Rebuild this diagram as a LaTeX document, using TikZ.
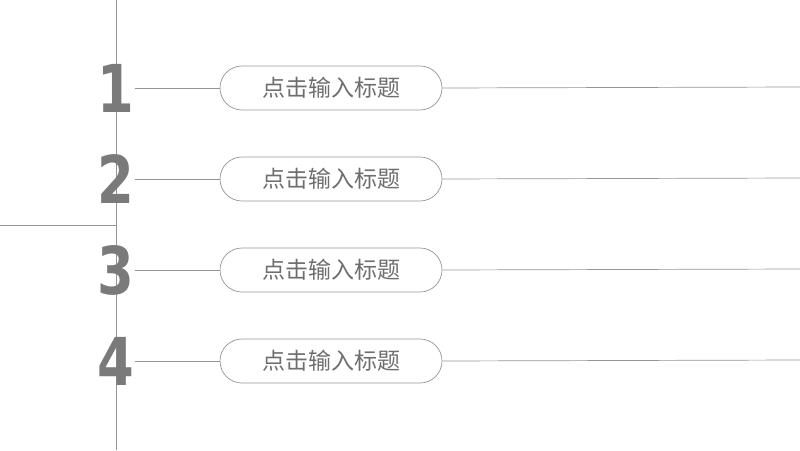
\documentclass[tikz,border=0pt]{standalone}
\usepackage{fontspec}
\newfontfamily\cjk{Noto Sans CJK SC}
\newfontfamily\numfont{DejaVu Sans}
\usetikzlibrary{positioning}
\definecolor{linegray}{HTML}{959595}
\definecolor{textgray}{HTML}{6E6E6E}
\definecolor{numgray}{HTML}{7A7A7A}
\tikzset{
  pill/.style={draw=linegray, line width=0.7pt, rounded corners=22pt, minimum width=222pt, minimum height=44pt, text=textgray, font=\cjk\fontsize{23pt}{23pt}\selectfont},
  num/.style={text=numgray, font=\numfont\bfseries\fontsize{66pt}{66pt}\selectfont, inner sep=0pt, xscale=0.8},
  rule/.style={draw=linegray, line width=0.7pt}
}
\begin{document}
\begin{tikzpicture}[x=1pt,y=-1pt]
  \useasboundingbox (0,0) rectangle (800,450);
  % frame lines
  \coordinate (top) at (116,0);
  \coordinate (bottom) at (116,450);
  \coordinate (leftend) at (0,225);
  \coordinate (cross) at (116,225);
  \draw[rule] (top) -- (bottom);
  \draw[rule] (leftend) -- (cross);

  % rows
  \foreach \i/\y in {1/88,2/179,3/270,4/361}{
    \node[num] (n\i) at (116,\y) {\i};
    \node[pill] (p\i) at (331,\y) {点击输入标题};
    \coordinate (r\i) at (800,\y-1);
    \draw[rule] (n\i.east) -- (p\i.west);
    \draw[rule] (p\i.east) -- (r\i);
  }
\end{tikzpicture}
\end{document}
